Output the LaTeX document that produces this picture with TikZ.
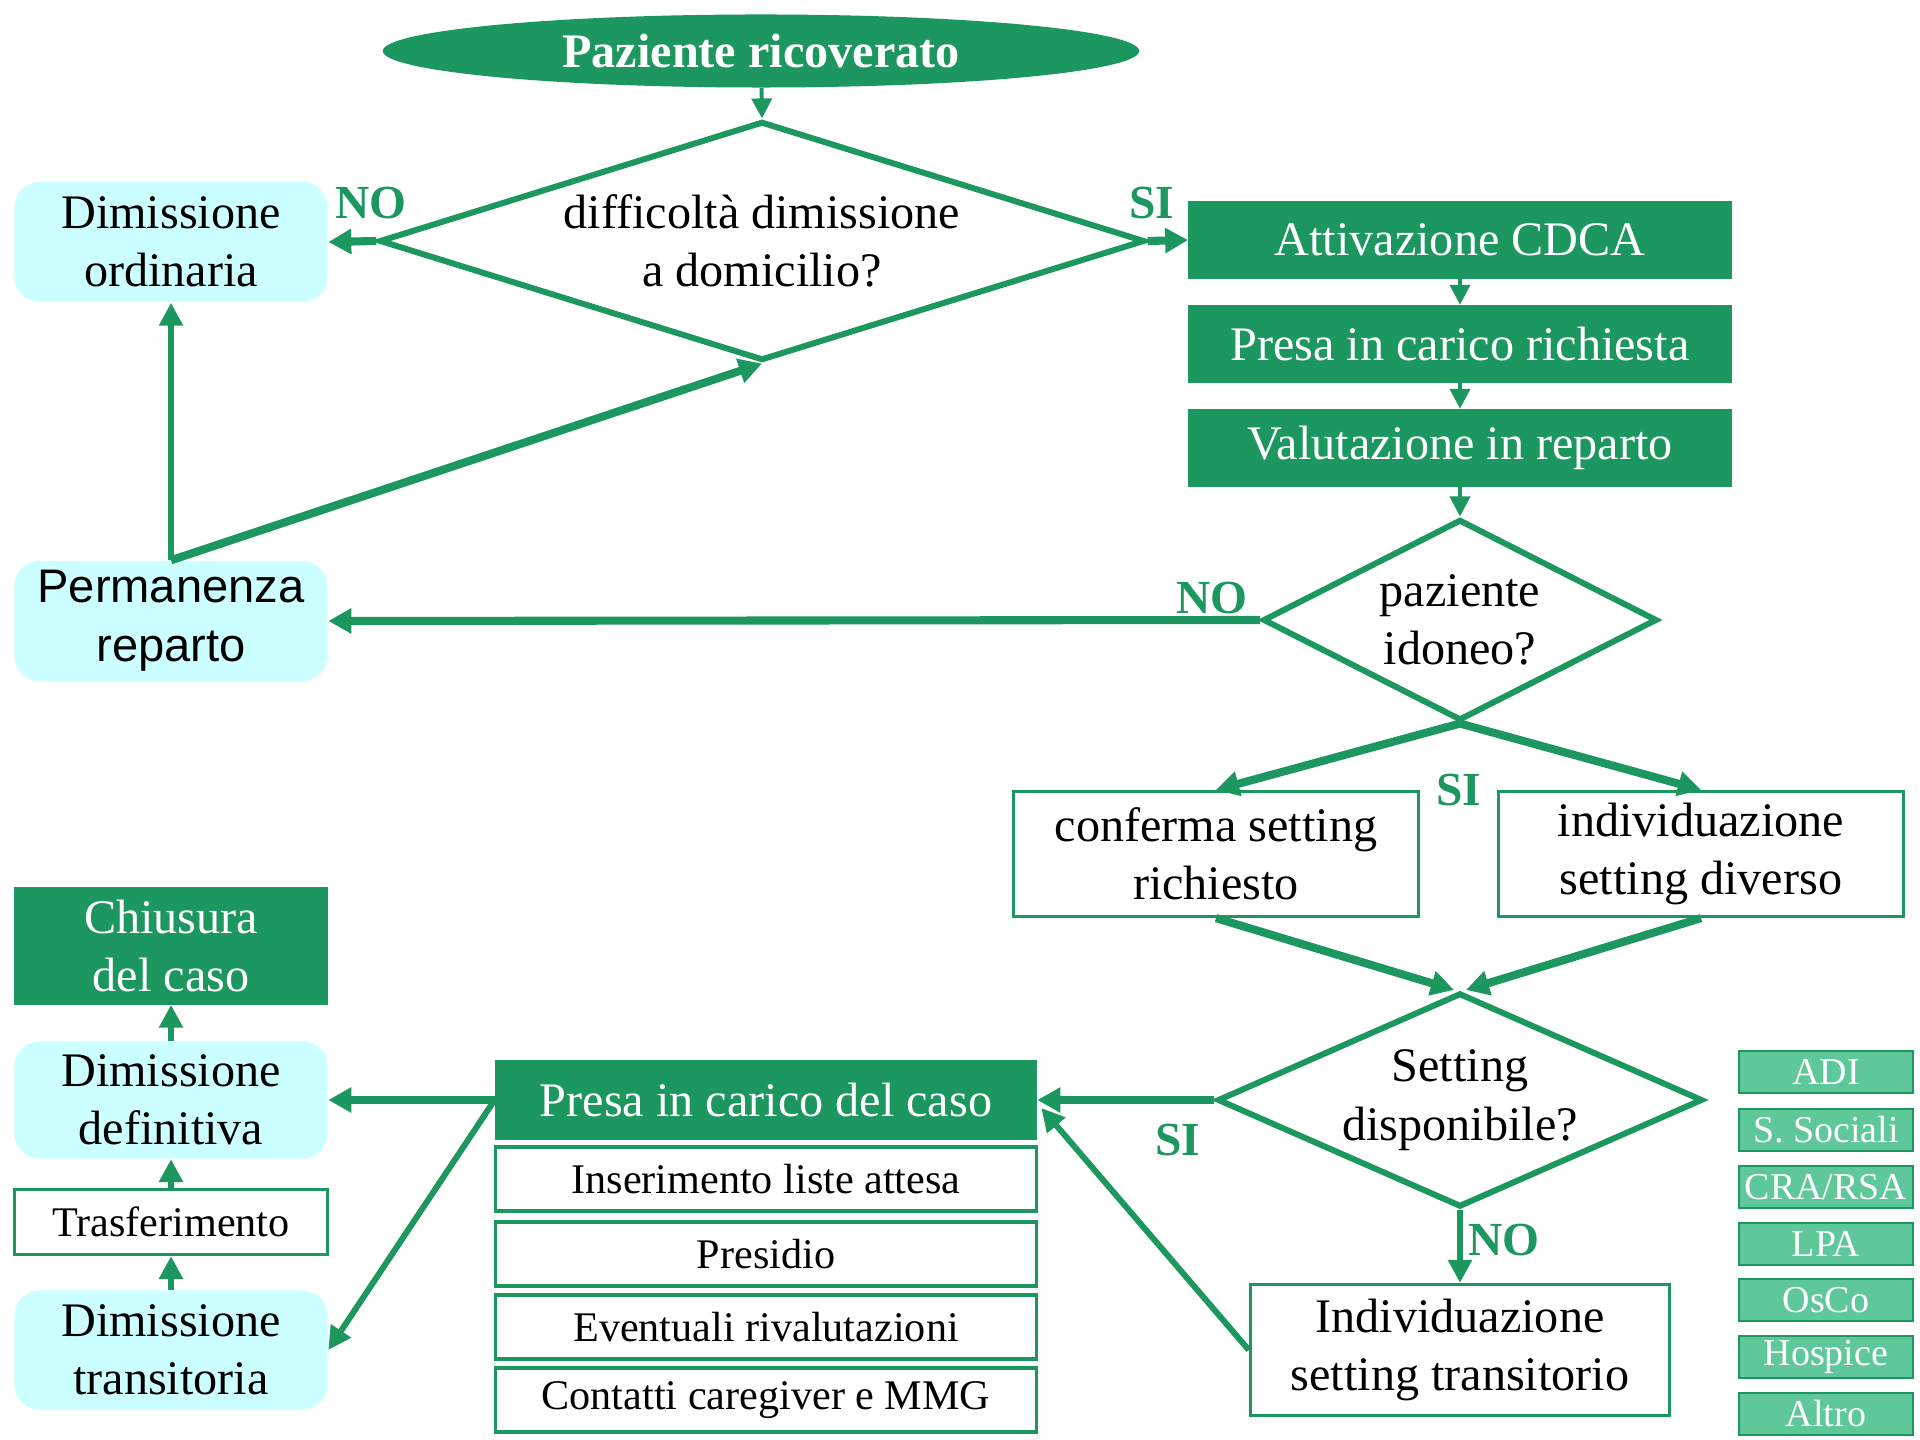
\documentclass[tikz,border=0pt]{standalone}
\usepackage{fontspec}
\setmainfont{Liberation Serif}
\setsansfont{Liberation Sans}
\usetikzlibrary{shapes.geometric,arrows.meta,calc}
\definecolor{cdgreen}{RGB}{27,151,95}
\definecolor{cdcyan}{RGB}{204,255,255}
\definecolor{cdmint}{RGB}{95,200,154}
\tikzset{
  base/.style={align=center,inner sep=0pt,font=\fontsize{13.7}{16.6}\selectfont},
  darkbox/.style={base,fill=cdgreen,draw=cdgreen,text=white,minimum width=5.42cm,minimum height=0.77cm},
  softbox/.style={base,fill=cdcyan,rounded corners=0.25cm,minimum width=3.13cm,minimum height=1.2cm},
  plainbox/.style={base,draw=cdgreen,line width=0.9pt,fill=white},
  decision/.style={base,diamond,draw=cdgreen,line width=1.7pt},
  listbox/.style={plainbox,font=\fontsize{12}{14}\selectfont,minimum width=5.41cm,minimum height=0.64cm},
  stackbox/.style={base,fill=cdmint,draw=cdgreen,line width=0.8pt,text=white,font=\fontsize{10.8}{12}\selectfont,minimum width=1.74cm,minimum height=0.42cm},
  answer/.style={text=cdgreen,font=\fontsize{13.5}{16}\selectfont\bfseries},
  thickarrow/.style={draw=cdgreen,line width=2.3pt,-{Triangle[length=0.23cm,width=0.24cm]}},
  midarrow/.style={draw=cdgreen,line width=1.7pt,-{Triangle[length=0.23cm,width=0.23cm]}},
  thinarrow/.style={draw=cdgreen,line width=1.1pt,-{Triangle[length=0.2cm,width=0.2cm]}},
}
\begin{document}
\begin{tikzpicture}[x=0.01cm,y=-0.01cm]
\useasboundingbox (0,0) rectangle (1920,1440);
% top part
\node[base,ellipse,fill=cdgreen,text=white,font=\fontsize{13.7}{16}\selectfont\bfseries,minimum width=7.56cm,minimum height=0.73cm] (pz) at (761,51) {Paziente ricoverato};
\node[decision,aspect=3.2,minimum width=7.65cm,minimum height=2.39cm] (d1) at (762,241) {difficoltà dimissione\\a domicilio?};
\node[softbox] (dord) at (171,242) {Dimissione\\ordinaria};
\node[softbox,font=\fontsize{13.4}{16.8}\sffamily] (perm) at (171,621) {Permanenza\\reparto};
\node[darkbox] (att) at (1460,240) {Attivazione CDCA};
\node[darkbox] (prich) at (1460,344) {Presa in carico richiesta};
\node[darkbox] (val) at (1460,448) {Valutazione in reparto};
\node[decision,aspect=1.96,minimum width=3.94cm,minimum height=2.01cm] (d2) at (1460,620) {paziente\\idoneo?};
% settings
\node[plainbox,minimum width=4.05cm,minimum height=1.25cm] (conf) at (1216,854) {conferma setting\\richiesto};
\node[plainbox,minimum width=4.05cm,minimum height=1.25cm] (indiv) at (1701,854) {individuazione\\setting diverso};
\node[decision,aspect=2.27,minimum width=4.85cm,minimum height=2.14cm] (d3) at (1460,1100) {Setting\\disponibile?};
\node[plainbox,minimum width=4.19cm,minimum height=1.31cm] (itrans) at (1460,1350) {Individuazione\\setting transitorio};
% presa in carico
\node[darkbox,minimum width=5.41cm,minimum height=0.78cm] (pcaso) at (766,1100) {Presa in carico del caso};
\foreach \i/\y/\t in {1/1179/Inserimento liste attesa,2/1254/Presidio,3/1327/Eventuali rivalutazioni,4/1400/Contatti caregiver e MMG}
  \node[listbox] (lst\i) at (766,\y) {\t};
% dimissione
\node[darkbox,minimum width=3.13cm,minimum height=1.16cm] (chius) at (171,946) {Chiusura\\del caso};
\node[softbox,minimum height=1.17cm] (ddef) at (171,1100) {Dimissione\\definitiva};
\node[plainbox,font=\fontsize{12}{14}\selectfont,minimum width=3.13cm,minimum height=0.65cm] (trasf) at (171,1222) {Trasferimento};
\node[softbox,minimum height=1.19cm] (dtrans) at (171,1350) {Dimissione\\transitoria};
% setting list
\foreach \i/\y/\t in {1/1072/ADI,2/1130/S. Sociali,3/1187/{CRA/RSA},4/1244/LPA,5/1300/OsCo,6/1357/Hospice,7/1414/Altro}
  \node[stackbox] (st\i) at (1826,\y) {\t};
% answers
\node[answer] (no1) at (371,203) {NO};
\node[answer] (si1) at (1152,203) {SI};
\node[answer] (no2) at (1212,598) {NO};
\node[answer] (si2) at (1459,790) {SI};
\node[answer] (si3) at (1178,1140) {SI};
\node[answer] (no3) at (1504,1240) {NO};
% connectors
\draw[thinarrow] (pz) -- (d1.north);
\draw[thickarrow] (d1.west) -- (dord.east);
\draw[thickarrow] (d1.east) -- (att.west);
\draw[thinarrow] (att) -- (prich);
\draw[thinarrow] (prich) -- (val);
\draw[thinarrow] (val) -- (d2.north);
\draw[thickarrow] (d2.west) -- (perm.east);
\draw[midarrow] (perm.north) -- (dord.south);
\draw[thickarrow] (perm.north) -- (d1.south);
\draw[thickarrow] (d2.south) -- (conf.north);
\draw[thickarrow] (d2.south) -- (indiv.north);
\draw[thickarrow] (conf.south) -- ($(d3.north)+(-6,0)$);
\draw[thickarrow] (indiv.south) -- ($(d3.north)+(6,0)$);
\draw[thickarrow] (d3.west) -- (pcaso.east);
\draw[midarrow] (d3.south) -- (itrans.north);
\draw[midarrow] (itrans.west) -- ($(pcaso.east)+(4,8)$);
\draw[thickarrow] (pcaso.west) -- (ddef.east);
\draw[midarrow] (pcaso.west) -- (dtrans.east);
\draw[midarrow] (dtrans) -- (trasf);
\draw[midarrow] (trasf) -- (ddef);
\draw[midarrow] (ddef) -- (chius);
\end{tikzpicture}
\end{document}
